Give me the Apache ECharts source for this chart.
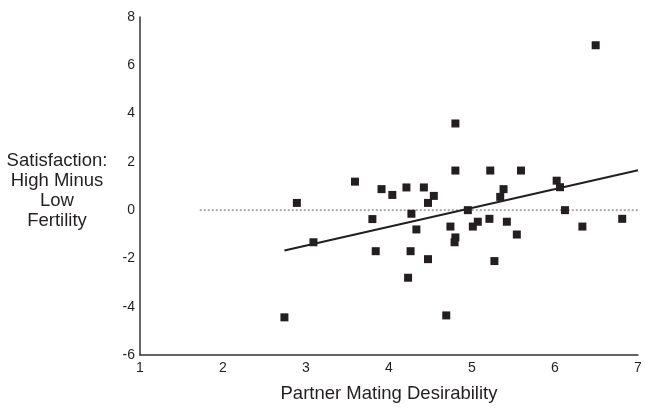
<!DOCTYPE html>
<html>
<head>
<meta charset="utf-8">
<script src="https://cdn.jsdelivr.net/npm/echarts@6/dist/echarts.min.js"></script>
<style>
html,body{margin:0;padding:0;background:#fff;}
#chart{width:646px;height:408px;}
</style>
</head>
<body>
<div id="chart"></div>
<script>
// Data
var desirability = [2.74, 2.89, 3.09, 3.59, 3.80, 3.84, 3.91, 4.04, 4.21, 4.23, 4.26, 4.27, 4.33, 4.42, 4.47, 4.47, 4.54, 4.69, 4.74, 4.80, 4.80, 4.80, 4.79, 4.95, 5.01, 5.07, 5.21, 5.22, 5.27, 5.38, 5.34, 5.42, 5.54, 5.59, 6.02, 6.06, 6.12, 6.33, 6.49, 6.81];
var satisfaction = [-4.44, 0.30, -1.33, 1.18, -0.37, -1.70, 0.87, 0.63, 0.94, -2.80, -1.70, -0.15, -0.80, 0.94, 0.30, -2.03, 0.59, -4.36, -0.68, 3.59, 1.64, -1.13, -1.33, 0.00, -0.68, -0.48, -0.36, 1.64, -2.11, 0.87, 0.55, -0.48, -1.01, 1.64, 1.22, 0.95, 0.00, -0.68, 6.83, -0.36];
var fitX = [2.74, 7];
var fitY = [-1.67, 1.65];
var refX = [1.72, 7];
var refY = [0, 0];
var xTitle = 'Partner Mating Desirability';
var yTitle = 'Satisfaction:\nHigh Minus\nLow\nFertility';

function pairs(xs, ys){ return xs.map(function(x,i){ return [x, ys[i]]; }); }

var chart = echarts.init(document.getElementById('chart'), null, {renderer:'canvas'});
var font = 'Liberation Sans, Arial, sans-serif';
chart.setOption({
  animation:false,
  backgroundColor:'#fff',
  grid:{left:140, right:8, top:17, bottom:48, containLabel:false},
  xAxis:{
    type:'value', min:1, max:7, interval:1,
    name:xTitle, nameLocation:'middle', nameGap:29,
    nameTextStyle:{fontFamily:font, fontSize:18.5, color:'#231f20'},
    axisLine:{show:true, onZero:false, lineStyle:{color:'#333', width:1.5}},
    axisTick:{show:false},
    splitLine:{show:false},
    axisLabel:{fontFamily:font, fontSize:14, color:'#231f20', margin:6}
  },
  yAxis:{
    type:'value', min:-6, max:8, interval:2,
    axisLine:{show:true, onZero:false, lineStyle:{color:'#333', width:1.5}},
    axisTick:{show:false},
    splitLine:{show:false},
    axisLabel:{fontFamily:font, fontSize:14, color:'#231f20', margin:5}
  },
  graphic:[{
    type:'text', x:57, y:191,
    style:{text:yTitle, fontFamily:font, fontSize:18.5, lineHeight:20, fill:'#231f20', align:'center', verticalAlign:'middle'}
  }],
  series:[
    {type:'line', data:pairs(refX, refY), symbol:'none', silent:true,
     lineStyle:{color:'#a8a8a8', width:2, type:[2,2]}, z:1},
    {type:'line', data:pairs(fitX, fitY), symbol:'none', silent:true,
     lineStyle:{color:'#231f20', width:2}, z:2},
    {type:'scatter', data:pairs(desirability, satisfaction), symbol:'rect', symbolSize:8,
     itemStyle:{color:'#231f20', opacity:1}, z:3}
  ]
});
</script>
</body>
</html>
